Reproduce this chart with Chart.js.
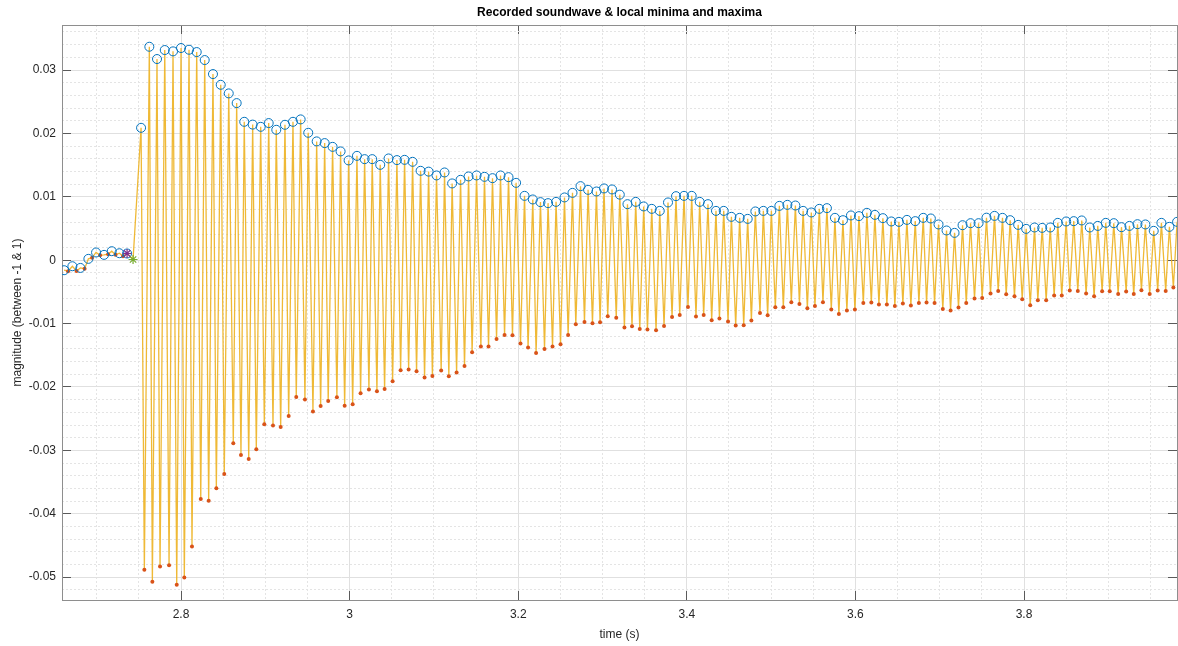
<!DOCTYPE html>
<html>
<head>
<meta charset="utf-8">
<title>Recorded soundwave &amp; local minima and maxima</title>
<script src="https://cdn.jsdelivr.net/npm/chart.js@4.4.1/dist/chart.umd.min.js"></script>
<style>
  html, body { margin: 0; padding: 0; background: #fff; }
</style>
</head>
<body>
<canvas id="waveChart" width="1178" height="646"></canvas>
<script>
// local maxima (time in s, magnitude)
const maxTimes = [
  2.6613, 2.6711, 2.6806, 2.6901, 2.6992, 2.7087, 2.7178, 2.7269, 2.7360, 2.7526,
  2.7624, 2.7715, 2.7807, 2.7905, 2.8000, 2.8095, 2.8186, 2.8281, 2.8379, 2.8471,
  2.8566, 2.8660, 2.8750, 2.8850, 2.8945, 2.9040, 2.9130, 2.9233, 2.9328, 2.9419,
  2.9509, 2.9609, 2.9704, 2.9798, 2.9893, 2.9988, 3.0087, 3.0178, 3.0268, 3.0363,
  3.0462, 3.0561, 3.0652, 3.0747, 3.0842, 3.0937, 3.1031, 3.1126, 3.1216, 3.1316,
  3.1411, 3.1506, 3.1600, 3.1695, 3.1790, 3.1885, 3.1975, 3.2075, 3.2173, 3.2264,
  3.2354, 3.2449, 3.2549, 3.2644, 3.2739, 3.2829, 3.2928, 3.3018, 3.3113, 3.3205,
  3.3296, 3.3394, 3.3489, 3.3584, 3.3679, 3.3777, 3.3872, 3.3967, 3.4058, 3.4153,
  3.4251, 3.4346, 3.4438, 3.4529, 3.4627, 3.4722, 3.4813, 3.4908, 3.5003, 3.5098,
  3.5193, 3.5288, 3.5380, 3.5477, 3.5572, 3.5662, 3.5757, 3.5852, 3.5947, 3.6042,
  3.6136, 3.6231, 3.6326, 3.6426, 3.6516, 3.6611, 3.6710, 3.6805, 3.6895, 3.6986,
  3.7081, 3.7176, 3.7271, 3.7366, 3.7461, 3.7555, 3.7650, 3.7745, 3.7836, 3.7931,
  3.8026, 3.8125, 3.8216, 3.8311, 3.8401, 3.8500, 3.8590, 3.8685, 3.8780, 3.8875,
  3.8970, 3.9065, 3.9156, 3.9251, 3.9346, 3.9440, 3.9539, 3.9630, 3.9725, 3.9816
];
const maxValues = [
  -0.00158, -0.00095, -0.00122, 0.00021, 0.00122, 0.00084, 0.00142, 0.00110, 0.00106, 0.02088,
  0.03367, 0.03173, 0.03315, 0.03294, 0.03347, 0.03320, 0.03283, 0.03157, 0.02936, 0.02767,
  0.02631, 0.02478, 0.02183, 0.02139, 0.02104, 0.02163, 0.02057, 0.02136, 0.02183, 0.02221,
  0.02010, 0.01874, 0.01847, 0.01788, 0.01716, 0.01574, 0.01646, 0.01594, 0.01594, 0.01504,
  0.01605, 0.01579, 0.01583, 0.01552, 0.01410, 0.01397, 0.01337, 0.01384, 0.01211, 0.01268,
  0.01321, 0.01337, 0.01315, 0.01294, 0.01337, 0.01310, 0.01220, 0.01015, 0.00958, 0.00916,
  0.00900, 0.00920, 0.00990, 0.01062, 0.01168, 0.01110, 0.01084, 0.01132, 0.01116, 0.01034,
  0.00884, 0.00920, 0.00848, 0.00810, 0.00778, 0.00911, 0.01010, 0.01015, 0.01015, 0.00920,
  0.00884, 0.00778, 0.00778, 0.00684, 0.00668, 0.00652, 0.00769, 0.00778, 0.00778, 0.00857,
  0.00873, 0.00863, 0.00778, 0.00753, 0.00810, 0.00821, 0.00668, 0.00631, 0.00706, 0.00695,
  0.00747, 0.00715, 0.00663, 0.00611, 0.00605, 0.00636, 0.00616, 0.00668, 0.00658, 0.00564,
  0.00469, 0.00431, 0.00552, 0.00584, 0.00584, 0.00671, 0.00699, 0.00668, 0.00631, 0.00557,
  0.00494, 0.00516, 0.00510, 0.00516, 0.00589, 0.00611, 0.00616, 0.00627, 0.00516, 0.00541,
  0.00589, 0.00584, 0.00521, 0.00541, 0.00568, 0.00564, 0.00463, 0.00589, 0.00526, 0.00605
];

// local minima (time in s, magnitude)
const minTimes = [
  2.6660, 2.6761, 2.6856, 2.6945, 2.7040, 2.7135, 2.7223, 2.7312,
  2.7565, 2.7660, 2.7751, 2.7858, 2.7949, 2.8039, 2.8130, 2.8234, 2.8328, 2.8419,
  2.8513, 2.8620, 2.8711, 2.8803, 2.8893, 2.8988, 2.9091, 2.9182, 2.9277, 2.9367,
  2.9470, 2.9565, 2.9656, 2.9746, 2.9849, 2.9941, 3.0036, 3.0130, 3.0229, 3.0324,
  3.0415, 3.0510, 3.0605, 3.0700, 3.0794, 3.0889, 3.0982, 3.1086, 3.1177, 3.1269,
  3.1363, 3.1453, 3.1557, 3.1648, 3.1743, 3.1838, 3.1932, 3.2027, 3.2117, 3.2212,
  3.2312, 3.2407, 3.2502, 3.2592, 3.2683, 3.2786, 3.2881, 3.2971, 3.3062, 3.3163,
  3.3260, 3.3350, 3.3442, 3.3533, 3.3635, 3.3730, 3.3825, 3.3916, 3.4014, 3.4109,
  3.4200, 3.4295, 3.4387, 3.4489, 3.4580, 3.4675, 3.4766, 3.4868, 3.4959, 3.5050,
  3.5145, 3.5240, 3.5336, 3.5430, 3.5520, 3.5615, 3.5714, 3.5804, 3.5899, 3.5994,
  3.6094, 3.6189, 3.6279, 3.6373, 3.6468, 3.6563, 3.6658, 3.6753, 3.6844, 3.6939,
  3.7037, 3.7129, 3.7223, 3.7315, 3.7413, 3.7504, 3.7603, 3.7694, 3.7789, 3.7887,
  3.7979, 3.8074, 3.8164, 3.8263, 3.8358, 3.8448, 3.8543, 3.8638, 3.8737, 3.8832,
  3.8927, 3.9017, 3.9117, 3.9212, 3.9302, 3.9393, 3.9491, 3.9586, 3.9681, 3.9772
];
const minValues = [
  -0.00174, -0.00169, -0.00134, 0.00040, 0.00079, 0.00095, 0.00087, 0.00063,
  -0.04882, -0.05072, -0.04830, -0.04810, -0.05119, -0.05004, -0.04515, -0.03768, -0.03793, -0.03599,
  -0.03373, -0.02889, -0.03073, -0.03137, -0.02983, -0.02589, -0.02609, -0.02631, -0.02458, -0.02158,
  -0.02199, -0.02388, -0.02300, -0.02221, -0.02163, -0.02294, -0.02273, -0.02100, -0.02041, -0.02068,
  -0.02032, -0.01910, -0.01736, -0.01725, -0.01752, -0.01852, -0.01828, -0.01741, -0.01831, -0.01773,
  -0.01669, -0.01452, -0.01362, -0.01362, -0.01242, -0.01179, -0.01184, -0.01315, -0.01378, -0.01463,
  -0.01400, -0.01362, -0.01326, -0.01179, -0.01010, -0.00974, -0.00994, -0.00979, -0.00884, -0.00908,
  -0.01062, -0.01042, -0.01084, -0.01094, -0.01105, -0.01037, -0.00895, -0.00863, -0.00737, -0.00889,
  -0.00863, -0.00947, -0.00920, -0.00968, -0.01031, -0.01026, -0.00952, -0.00832, -0.00868, -0.00742,
  -0.00742, -0.00663, -0.00691, -0.00758, -0.00721, -0.00663, -0.00778, -0.00848, -0.00794, -0.00778,
  -0.00674, -0.00668, -0.00699, -0.00699, -0.00721, -0.00684, -0.00715, -0.00674, -0.00668, -0.00674,
  -0.00769, -0.00794, -0.00747, -0.00674, -0.00605, -0.00595, -0.00524, -0.00485, -0.00537, -0.00568,
  -0.00616, -0.00710, -0.00631, -0.00631, -0.00557, -0.00557, -0.00478, -0.00485, -0.00526, -0.00568,
  -0.00489, -0.00489, -0.00532, -0.00494, -0.00532, -0.00474, -0.00532, -0.00478, -0.00485, -0.00431
];

// the two asterisk markers before the onset
const purpleMark = [2.7360, 0.00106];
const greenMark = [2.7431, 0.00011];

const xTicks = [2.8, 3, 3.2, 3.4, 3.6, 3.8];
const yTicks = [-0.05, -0.04, -0.03, -0.02, -0.01, 0, 0.01, 0.02, 0.03];
const X_MIN = 2.6588, X_MAX = 3.9815;
const Y_MIN = -0.0536, Y_MAX = 0.0371;
const X_MINOR = 0.05, Y_MINOR = 0.002;

const toPoints = (xs, ys) => xs.map((x, i) => ({ x: x, y: ys[i] }));
const maxPts = toPoints(maxTimes, maxValues);
const minPts = toPoints(minTimes, minValues);
const wavePts = maxPts.concat(minPts, [{ x: greenMark[0], y: greenMark[1] }])
  .sort((a, b) => a.x - b.x);

const TEXT = '#262626';
const AXIS = '#8e8e8e';
const TICK = '#5a5a5a';
const MAJOR = '#e0e0e0';
const MINOR = '#e4e4e4';
const TL = -9;

Chart.defaults.font.family = '"Liberation Sans", Arial, Helvetica, sans-serif';
Chart.defaults.font.size = 12;
Chart.defaults.color = TEXT;

function setTicks(list) {
  return s => { s.ticks = list.map(v => ({ value: v })); };
}
function minorTicks(step, major) {
  return s => {
    s.ticks = s.ticks.filter(t => {
      const r = t.value / major;
      return Math.abs(r - Math.round(r)) > 1e-6;
    });
  };
}

const ctx = document.getElementById('waveChart').getContext('2d');

const chart = new Chart(ctx, {
  type: 'scatter',
  data: {
    datasets: [
      {
        label: 'maxima',
        data: maxPts,
        pointStyle: 'circle',
        pointRadius: 4.5,
        pointBorderWidth: 1,
        pointBorderColor: '#0072BD',
        pointBackgroundColor: 'rgba(0,0,0,0)',
        order: 1
      },
      {
        label: 'minima',
        data: minPts,
        pointStyle: 'circle',
        pointRadius: 2,
        pointBorderWidth: 0,
        pointBackgroundColor: '#D95319',
        pointBorderColor: '#D95319',
        order: 2
      },
      {
        label: 'start',
        data: [{ x: purpleMark[0], y: purpleMark[1] }],
        pointStyle: 'star',
        pointRadius: 4.5,
        pointBorderWidth: 1.2,
        pointBorderColor: '#7E2F8E',
        order: 0
      },
      {
        label: 'onset',
        data: [{ x: greenMark[0], y: greenMark[1] }],
        pointStyle: 'star',
        pointRadius: 4.5,
        pointBorderWidth: 1.2,
        pointBorderColor: '#77AC30',
        order: 0
      },
      {
        label: 'soundwave',
        data: wavePts,
        showLine: true,
        borderColor: 'rgba(237,177,32,0.9)',
        borderWidth: 1.3,
        pointRadius: 0,
        order: 3
      }
    ]
  },
  options: {
    responsive: false,
    animation: false,
    devicePixelRatio: 1,
    layout: { autoPadding: false, padding: { left: 0, right: 1, top: 0, bottom: 0 } },
    plugins: {
      legend: { display: false },
      tooltip: { enabled: false },
      title: {
        display: true,
        fullSize: false,
        text: 'Recorded soundwave & local minima and maxima',
        color: '#000',
        font: { size: 12, weight: 'bold' },
        padding: { top: 5, bottom: 5.6 }
      }
    },
    scales: {
      x: {
        type: 'linear',
        position: 'bottom',
        min: X_MIN,
        max: X_MAX,
        afterBuildTicks: setTicks(xTicks),
        afterFit: s => { s.height = 46; },
        grid: { color: MAJOR, lineWidth: 1, drawTicks: true, tickLength: TL, tickColor: TICK, tickWidth: 1 },
        border: { display: true, color: AXIS, width: 1 },
        ticks: {
          padding: 16, maxRotation: 0, autoSkip: false,
          callback: v => String(+v.toFixed(1))
        },
        title: { display: true, text: 'time (s)', padding: { top: 0, bottom: 4 } }
      },
      xMinor: {
        type: 'linear',
        position: 'bottom',
        min: X_MIN,
        max: X_MAX,
        ticks: { display: false, stepSize: X_MINOR, includeBounds: false, autoSkip: false },
        afterBuildTicks: minorTicks(X_MINOR, 0.2),
        afterFit: s => { s.height = 0; },
        grid: { color: MINOR, drawTicks: false },
        border: { display: false, dash: [2, 2] }
      },
      xTop: {
        type: 'linear',
        position: 'top',
        min: X_MIN,
        max: X_MAX,
        afterBuildTicks: setTicks(xTicks),
        afterFit: s => { s.height = 0; },
        ticks: { display: false },
        grid: { drawOnChartArea: false, drawTicks: true, tickLength: TL, tickColor: TICK },
        border: { display: true, color: AXIS, width: 1 }
      },
      y: {
        type: 'linear',
        position: 'left',
        min: Y_MIN,
        max: Y_MAX,
        afterBuildTicks: setTicks(yTicks),
        afterFit: s => { s.width = 62; },
        grid: { color: MAJOR, lineWidth: 1, drawTicks: true, tickLength: TL, tickColor: TICK, tickWidth: 1 },
        border: { display: true, color: AXIS, width: 1 },
        ticks: {
          padding: 15,
          callback: v => String(+v.toFixed(2))
        },
        title: { display: true, text: 'magnitude (between -1 & 1)', padding: { top: 10, bottom: 0 } }
      },
      yMinor: {
        type: 'linear',
        position: 'left',
        min: Y_MIN,
        max: Y_MAX,
        ticks: { display: false, stepSize: Y_MINOR, includeBounds: false, autoSkip: false },
        afterBuildTicks: minorTicks(Y_MINOR, 0.01),
        afterFit: s => { s.width = 0; },
        grid: { color: MINOR, drawTicks: false },
        border: { display: false, dash: [2, 2] }
      },
      yRight: {
        type: 'linear',
        position: 'right',
        min: Y_MIN,
        max: Y_MAX,
        afterBuildTicks: setTicks(yTicks),
        afterFit: s => { s.width = 0; },
        ticks: { display: false },
        grid: { drawOnChartArea: false, drawTicks: true, tickLength: TL, tickColor: TICK },
        border: { display: true, color: AXIS, width: 1 }
      }
    }
  }
});
</script>
</body>
</html>
